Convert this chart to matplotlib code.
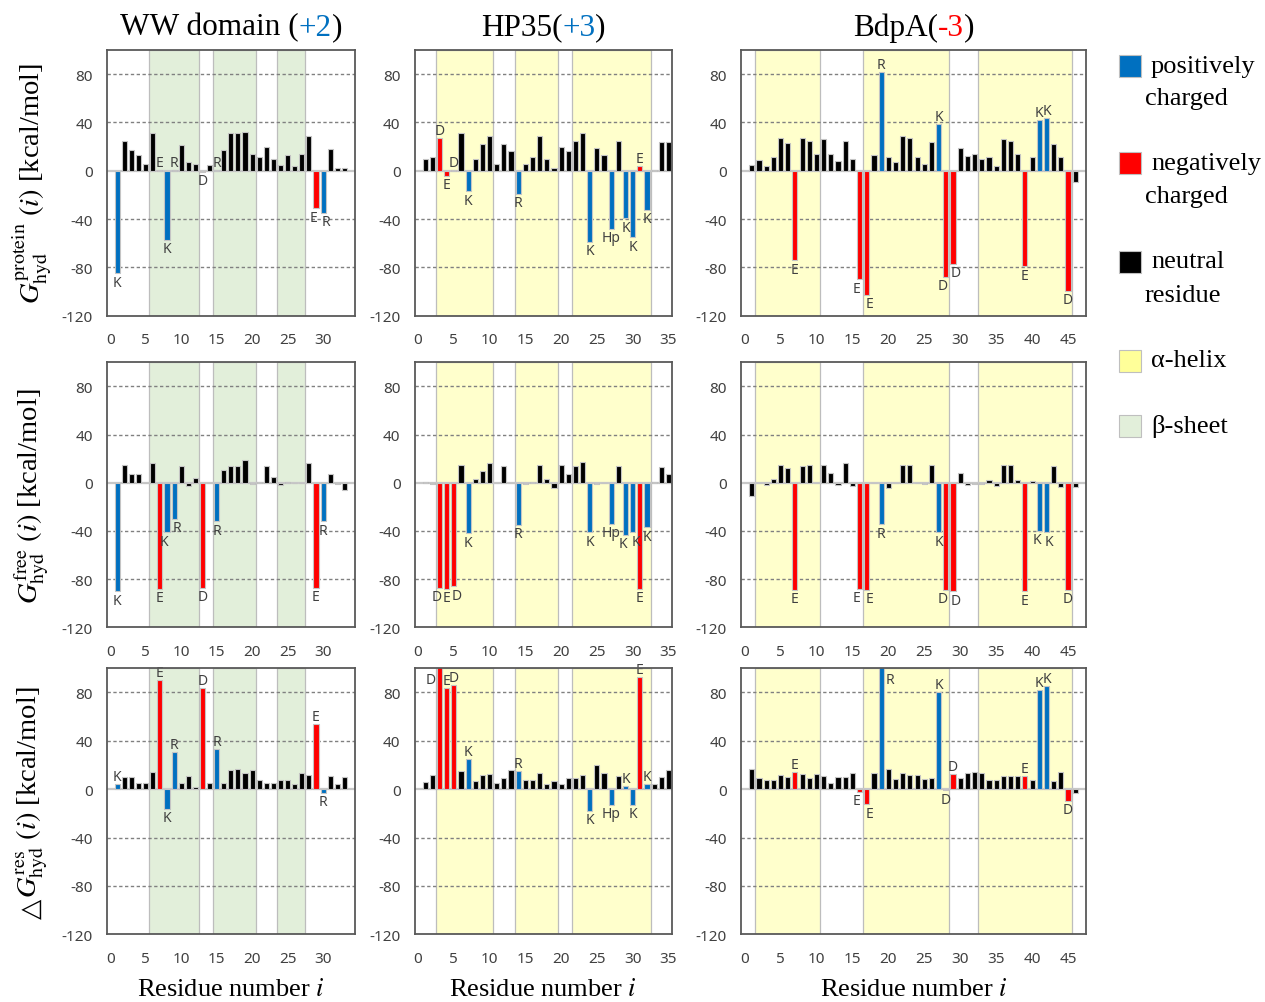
import numpy as np
import matplotlib.pyplot as plt
from matplotlib.patches import Rectangle

# per-residue hydration free energies (kcal/mol), residue 1 first
ww_protein = [-85, 25, 17, 13, 5.5, 31, 1, -57, 1, 21, 7.5, 6, -1, 5, 1, 17, 31, 31, 32, 14,
              11, 20, 10, 5, 13, 4, 13.5, 29, -31, -35, 18, 2, 2]
ww_free = [-90, 15, 7, 7, 0, 16.5, -88, -41, -30, 14, -3, 4, -87, 0, -32, 11, 14, 14, 19, -1,
           1, 14, 5, -2, 1, 0, 0, 16.5, -87, -32, 7, -1, -6]
ww_res = [4, 10, 10, 5, 5.5, 14, 90.7, -16, 31, 5.5, 11, 1.5, 84, 5.5, 33, 5, 16, 17, 13.5, 16,
          7.5, 5, 5, 7.5, 8, 4, 13, 11.5, 54, -3, 11, 4, 10]

hp_protein = [9.7, 11, 27, -4, 0.5, 31, -17, 10, 22, 29, 5.5, 22, 16.5, -19, 6, 11, 29, 9.7, 2.5, 20,
              16.5, 25, 31, -59, 18.5, 13, -48, 25, -39.5, -55, 4, -32.5, 1, 24, 24]
hp_free = [1, -1, -87, -88, -86, 14.6, -42, 3, 10, 16, 0, 14, 0, -35, -1, 1, 14.6, 3, -4, 14.6,
           7, 14, 17, -41, -1, 0, -34, 14, -43, -41, -88, -37, 1, 13, 7]
hp_res = [6, 12, 114, 83.5, 86.5, 15, 25, 6.6, 11.5, 12.4, 5.5, 9.3, 16, 15, 7.4, 7.4, 13.7, 4.7, 6.6, 4.7,
          9.3, 9.6, 12, -18, 19.8, 13.7, -13, 10.7, 2.5, -13, 92.6, 4, 4, 10, 16]

bd_protein = [5, 9, 4, 11, 27, 22.6, -74, 27, 25, 13.5, 26, 13.5, 8, 25, 9.7, -90, -102.5, 13, 82, 11,
              7.5, 29, 27, 11, 6, 24, 38.7, -88, -77, 19, 12.4, 13.8, 10, 11, 4, 26, 25, 13.5, -79, 11.6,
              42, 44, 22, 11, -99.5, -9]
bd_free = [-11, 0, -2, 3, 15, 12, -89, 14, 15, 0, 15, 8, -2, 16, -3, -88, -89, 0, -34.5, -4,
           0, 15, 15, 0, -1, 15, -41, -89, -90, 8, -2, -1, -1, 2, -3, 15, 15, 2, -90, 1.5,
           -40, -41, 14, -3.5, -89, -3.5]
bd_res = [17, 9.3, 7.4, 7.4, 11.5, 10, 14.3, 12.4, 9.3, 12.4, 11, 5.2, 10, 10, 13.7, -2, -12.6, 13.5, 116.5, 16.5,
          8.8, 13.5, 12, 12, 8.8, 9.3, 80, -1, 12.4, 9.3, 13.7, 14.3, 13, 7.4, 7.4, 11, 11, 11, 11, 8,
          82, 85, 6.6, 14.3, -9.6, -3.5]

# charged residues (position -> one letter code)
ww_charged = {1: 'K', 7: 'E', 8: 'K', 9: 'R', 13: 'D', 15: 'R', 29: 'E', 30: 'R'}
hp_charged = {3: 'D', 4: 'E', 5: 'D', 7: 'K', 14: 'R', 24: 'K', 27: 'Hp', 29: 'K', 30: 'K', 31: 'E', 32: 'K'}
bd_charged = {7: 'E', 16: 'E', 17: 'E', 19: 'R', 27: 'K', 28: 'D', 29: 'D', 39: 'E', 41: 'K', 42: 'K', 45: 'D'}

# secondary structure ranges (residue units)
ww_sheets = [(5.5, 12.5), (14.5, 20.5), (23.5, 27.5)]
hp_helices = [(2.5, 10.5), (13.5, 19.5), (21.5, 32.5)]
bd_helices = [(1.5, 10.5), (16.5, 28.5), (32.5, 45.5)]

names = ['WW domain (', 'HP35(', 'BdpA(']
net_charges = ['+2', '+3', '-3']
x_ends = [34.5, 35.5, 47.5]

BLUE = '#0070C0'
RED = '#FF0000'
HELIX = '#FFFFCC'
SHEET = '#E2EFDA'

plt.rcParams['font.family'] = ['Liberation Serif', 'DejaVu Sans']
plt.rcParams['mathtext.fontset'] = 'stix'
plt.rcParams['axes.unicode_minus'] = False

W, H = 1265, 1003
fig = plt.figure(figsize=(W / 100, H / 100), dpi=100)

# panel frames in pixels
col_left = [106.7, 414.5, 741.0]
col_right = [355.0, 672.0, 1086.0]
row_top = [51.0, 363.3, 669.3]
row_bottom = [316.7, 628.3, 935.3]

columns = [
    ([ww_protein, ww_free, ww_res], ww_charged, ww_sheets, SHEET),
    ([hp_protein, hp_free, hp_res], hp_charged, hp_helices, HELIX),
    ([bd_protein, bd_free, bd_res], bd_charged, bd_helices, HELIX),
]

ylabels = [r'$G_{\mathrm{hyd}}^{\mathrm{protein}}$ $(i)$ [kcal/mol]',
           r'$G_{\mathrm{hyd}}^{\mathrm{free}}$ $(i)$ [kcal/mol]',
           r'$G_{\mathrm{hyd}}^{\mathrm{res}}$ $(i)$ [kcal/mol]']
ylabel_prefix = [None, None, '\u25b3']

ymin, ymax = -120, 100


def close_neg(vals, charged, i, j):
    # True when residue j is a charged neighbour hanging down about as far as i
    if j not in charged or j < 1 or j > len(vals):
        return False
    return vals[j - 1] < 0 and abs(vals[j - 1] - vals[i - 1]) < 15


for c, (rows, charged, bands, band_color) in enumerate(columns):
    for r, vals in enumerate(rows):
        ax = fig.add_axes([col_left[c] / W, 1 - row_bottom[r] / H,
                           (col_right[c] - col_left[c]) / W, (row_bottom[r] - row_top[r]) / H])
        x = np.arange(1, len(vals) + 1)
        vals = np.array(vals, dtype=float)

        for lo, hi in bands:
            ax.axvspan(lo, hi, facecolor=band_color, edgecolor='#BDBDBD', lw=0.9, zorder=0)

        for g in [-80, -40, 40, 80]:
            ax.axhline(g, color='#808080', lw=1.0, ls=(0, (2.4, 1.8)), zorder=1)
        ax.axhline(0, color='#C8C8C8', lw=1.6, zorder=1)

        colors = []
        for i in x:
            code = charged.get(i)
            if code is None:
                colors.append('black')
            elif code in ('K', 'R', 'Hp'):
                colors.append(BLUE)
            else:
                colors.append(RED)
        ax.bar(x, vals, width=0.72, color=colors, edgecolor='#C4C4C4', linewidth=0.8, zorder=3)

        for i, code in charged.items():
            v = vals[i - 1]
            kw = dict(ha='center', fontsize=10, color='#404040', family='Noto Sans',
                      textcoords='offset points', zorder=5)
            dx = 0
            if v < 0:
                if close_neg(vals, charged, i, i + 1):
                    dx -= 2
                if close_neg(vals, charged, i, i - 1):
                    dx += 2
            if v > ymax:
                side = -1 if (i + 1) in charged else 1
                ax.annotate(code, (i + side * 0.9, ymax - 3), xytext=(side * 2, 0),
                            va='top', **kw)
            elif v >= 0:
                ax.annotate(code, (i, v), xytext=(0, 0), va='bottom', **kw)
            else:
                ax.annotate(code, (i, v), xytext=(dx, -1), va='top', **kw)

        ax.set_xlim(-0.5, x_ends[c])
        ax.set_ylim(ymin, ymax)
        ax.set_yticks([-120, -80, -40, 0, 40, 80])
        ax.set_xticks(np.arange(0, x_ends[c], 5))
        ax.tick_params(length=0, labelsize=11, labelcolor='#404040',
                       labelfontfamily='Noto Sans')
        ax.tick_params(axis='x', pad=12)
        ax.tick_params(axis='y', pad=10)
        for s in ax.spines.values():
            s.set_color('#595959')
            s.set_linewidth(1.3)
            s.set_zorder(6)

renderer = fig.canvas.get_renderer()

# row labels
for r in range(3):
    yc = (row_top[r] + row_bottom[r]) / 2
    if ylabel_prefix[r]:
        yc -= 10
    t = fig.text(32 / W, 1 - yc / H, ylabels[r], rotation=90, ha='center', va='center',
                 fontsize=20.5)
    if ylabel_prefix[r]:
        bb = t.get_window_extent(renderer)
        fig.text(32 / W, (bb.y0 - 1) / H, ylabel_prefix[r], rotation=90, ha='center', va='top',
                 fontsize=19, family='DejaVu Sans')

# column titles with coloured net charge
for c in range(3):
    xc = (col_left[c] + col_right[c]) / 2
    charge_color = RED if net_charges[c].startswith('-') else BLUE
    parts = [(names[c], 'black'), (net_charges[c], charge_color), (')', 'black')]
    texts, widths = [], []
    for s, col in parts:
        t = fig.text(0, 1 - 28 / H, s, color=col, fontsize=22.5, va='center', ha='left')
        texts.append(t)
        widths.append(t.get_window_extent(renderer).width)
    x0 = xc - sum(widths) / 2
    for t, w in zip(texts, widths):
        t.set_x(x0 / W)
        x0 += w
    fig.text(xc / W, 1 - 990 / H, 'Residue number $i$', ha='center', va='center', fontsize=19)

# legend
legend_items = [('positively', 'charged', BLUE, 66.5),
                ('negatively', 'charged', RED, 164),
                ('neutral', 'residue', 'black', 262.5),
                ('\u03b1-helix', None, '#FFFF99', 361.5),
                ('\u03b2-sheet', None, SHEET, 426.5)]
for line1, line2, col, yc in legend_items:
    fig.add_artist(Rectangle((1119 / W, 1 - (yc + 11) / H), 22 / W, 22 / H,
                             facecolor=col, edgecolor='#BFBFBF', lw=0.8,
                             transform=fig.transFigure))
    fig.text(1151 / W, 1 - yc / H, line1, ha='left', va='center', fontsize=19)
    if line2:
        fig.text(1145 / W, 1 - (yc + 33) / H, line2, ha='left', va='center', fontsize=19)

fig.savefig('out.png', dpi=100)
